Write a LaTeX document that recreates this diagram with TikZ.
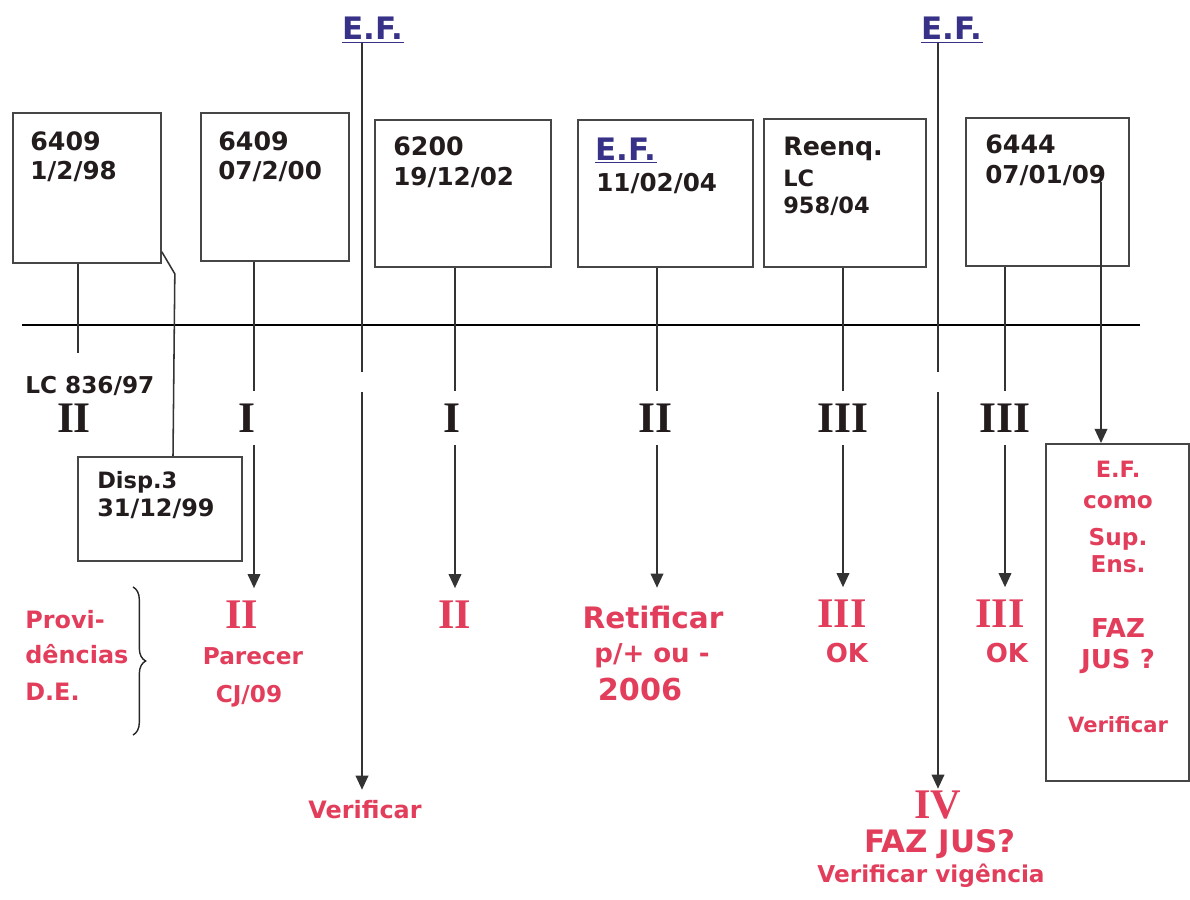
\documentclass[tikz,border=0pt]{standalone}
\usepackage{fontspec}
\setmainfont{DejaVu Sans}
\newfontfamily\romf{Liberation Serif}
\usetikzlibrary{arrows.meta,decorations.pathreplacing,calc}
\definecolor{redt}{RGB}{226,62,92}
\definecolor{blk}{RGB}{35,28,28}
\definecolor{bluet}{RGB}{55,50,135}
\definecolor{edge}{RGB}{70,70,70}
\newcommand{\fsz}[1]{\fontsize{#1}{#1}\selectfont}
\begin{document}
\begin{tikzpicture}[x=0.025cm,y=-0.025cm,
  box/.style 2 args={draw=edge,line width=1.3pt,anchor=north west,inner sep=0pt,
     minimum width=#1*0.025cm,minimum height=#2*0.025cm},
  bt/.style={anchor=base west,inner sep=0pt,text=blk,font=\bfseries\fsz{18}},
  bd/.style={anchor=base west,inner sep=0pt,text=blk,font=\bfseries\fsz{17.5}},
  bs/.style={anchor=base west,inner sep=0pt,text=blk,font=\bfseries\fsz{16}},
  ef/.style={anchor=base west,inner sep=0pt,text=bluet,font=\bfseries\fsz{22}},
  rom/.style={anchor=base,inner sep=0pt,text=blk,font=\romf\bfseries\fsz{31}},
  rrom/.style={anchor=base,inner sep=0pt,text=redt,font=\romf\bfseries\fsz{30}},
  rt/.style={anchor=base,inner sep=0pt,text=redt,font=\bfseries\fsz{#1}},
  rtl/.style={anchor=base west,inner sep=0pt,text=redt,font=\bfseries\fsz{17}},
  ln/.style={draw=black!80,line width=1.1pt},
  arr/.style={draw=black!80,line width=1.1pt,-{Triangle[width=9pt,length=10pt]}},
  hl/.style={draw=black,line width=2pt}
]
\useasboundingbox (0,0) rectangle (1190,900);

% timeline
\coordinate (tl) at (22,325);
\coordinate (tr) at (1140,325);
\draw[hl] (tl) -- (tr);

% boxes
\node[box={148}{150}] (b1) at (12,112) {};
\node[box={148}{148}] (b2) at (200,112) {};
\node[box={176}{147}] (b3) at (374,119) {};
\node[box={175}{147}] (b4) at (577,119) {};
\node[box={162}{148}] (b5) at (763,118) {};
\node[box={163}{148}] (b6) at (965,117) {};
\node[box={164}{104}] (d3) at (77,456) {};
\node[box={143}{337}] (fb) at (1045,443) {};

% box texts
\node[bt] (b1a) at (30,150) {6409};
\node[bd] (b1b) at (30,179) {1/2/98};
\node[bt] (b2a) at (218,150) {6409};
\node[bd] (b2b) at (218,179) {07/2/00};
\node[bt] (b3a) at (393,155) {6200};
\node[bd] (b3b) at (393,185) {19/12/02};
\node[ef] (b4a) at (595,160) {\underline{E.F.}};
\node[bd] (b4b) at (596,191) {11/02/04};
\node[bt] (b5a) at (783,155) {Reenq.};
\node[bd,font=\bfseries\fsz{16}] (b5b) at (783,186) {LC};
\node[bd,font=\bfseries\fsz{16}] (b5c) at (783,213) {958/04};
\node[bt] (b6a) at (985,153) {6444};
\node[bd] (b6b) at (985,183) {07/01/09};
\node[bs] (d3a) at (97,488) {Disp.3};
\node[bs,font=\bfseries\fsz{17}] (d3b) at (97,516) {31/12/99};
\node[bs,font=\bfseries\fsz{16.5}] (lc) at (25,393) {LC 836/97};

% E.F. headers
\node[ef] (ef1) at (342,40) {\underline{E.F.}};
\node[ef] (ef2) at (921,40) {\underline{E.F.}};

% black roman labels
\node[rom] (r1) at (74,432) {II};
\node[rom] (r2) at (247,432) {I};
\node[rom] (r3) at (452,432) {I};
\node[rom] (r4) at (655,432) {II};
\node[rom] (r5) at (843,432) {III};
\node[rom] (r6) at (1005,432) {III};

% red results
\node[rrom] (t2) at (242,628) {II};
\node[rt=16.5] (t2b) at (253,664) {Parecer};
\node[rt=16.5] (t2c) at (249,702) {CJ/09};
\node[rrom] (t3) at (455,628) {II};
\node[rt=21] (t4) at (653,628) {Retificar};
\node[rt=18.5] (t4b) at (652,662) {p/+ ou -};
\node[rt=21.5] (t4c) at (640,700) {2006};
\node[rrom] (t5) at (842,627) {III};
\node[rt=18.5] (t5b) at (847,662) {OK};
\node[rrom] (t6) at (1000,627) {III};
\node[rt=18.5] (t6b) at (1007,662) {OK};
\node[rtl] (pa) at (25,628) {Provi-};
\node[rtl] (pb) at (25,663) {dências};
\node[rtl] (pc) at (25,700) {D.E.};
\node[rt=17] (v1) at (365,818) {Verificar};
\node[rrom] (iv) at (938,818) {IV};
\node[rt=22] (iva) at (940,852) {FAZ JUS?};
\node[rt=16.5] (ivb) at (931,882) {Verificar vigência};

% right box texts
\node[rt=16] (f1) at (1118,477) {E.F.};
\node[rt=16.5] (f2) at (1118,508) {como};
\node[rt=16.5] (f3) at (1118,545) {Sup.};
\node[rt=16.5] (f4) at (1118,572) {Ens.};
\node[rt=18.5] (f5) at (1118,637) {FAZ};
\node[rt=18.5] (f6) at (1118,668) {JUS ?};
\node[rt=15] (f7) at (1118,732) {Verificar};

% brace
\draw[decorate,decoration={brace,amplitude=9pt},line width=1pt,draw=black!85]
  (133,587) -- (133,735);

% connectors
\coordinate (s1) at (78,353);
\draw[ln] (b1.south -| 78,0) -- (s1);
\draw[ln] (b1.south east) ++(0,-12) -- ++(13,22) -- (d3.north -| 173,0);

\draw[ln,shorten >=8.5pt] (b2.south -| 254,0) -- (254,0 |- r2.north);
\draw[arr,shorten <=9pt,shorten >=8.5pt] (254,0 |- r2.south) -- (254,0 |- t2.north);
\draw[ln,shorten >=8.5pt] (b3.south -| 455,0) -- (455,0 |- r3.north);
\draw[arr,shorten <=9pt,shorten >=8.5pt] (455,0 |- r3.south) -- (455,0 |- t3.north);
\draw[ln,shorten >=8.5pt] (b4.south -| 657,0) -- (657,0 |- r4.north);
\draw[arr,shorten <=9pt,shorten >=12.5pt] (657,0 |- r4.south) -- (657,0 |- t4.north);
\draw[ln,shorten >=8.5pt] (b5.south -| 843,0) -- (843,0 |- r5.north);
\draw[arr,shorten <=9pt,shorten >=8.5pt] (843,0 |- r5.south) -- (843,0 |- t5.north);
\draw[ln,shorten >=8.5pt] (b6.south -| 1005,0) -- (1005,0 |- r6.north);
\draw[arr,shorten <=9pt,shorten >=8.5pt] (1005,0 |- r6.south) -- (1005,0 |- t6.north);

\coordinate (g1a) at (362,372);
\coordinate (g1b) at (362,392);
\draw[ln] (362,0 |- ef1.south) -- (g1a);
\draw[arr,shorten >=7pt] (g1b) -- (362,0 |- v1.north);
\coordinate (g2a) at (938,372);
\coordinate (g2b) at (938,392);
\draw[ln] (938,0 |- ef2.south) -- (g2a);
\draw[arr,shorten >=1pt] (g2b) -- (938,0 |- iv.north);

\coordinate (e6) at (1101,182);
\draw[arr] (e6) -- (fb.north -| 1101,0);
\end{tikzpicture}
\end{document}
